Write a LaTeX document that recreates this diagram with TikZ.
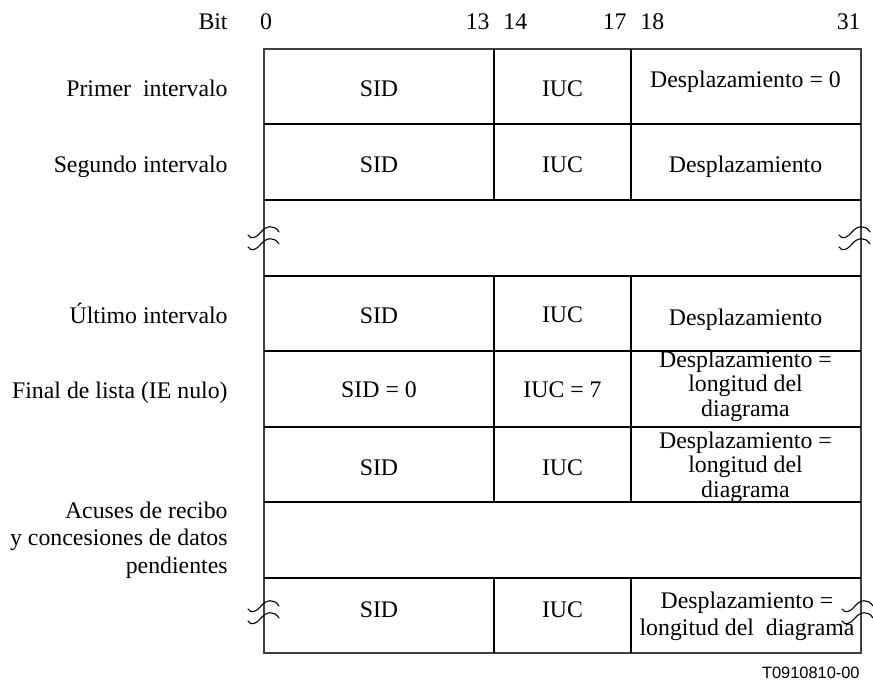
\documentclass[tikz,border=0pt]{standalone}
\usepackage{fontspec}
\setmainfont{Liberation Serif}
\setsansfont{Liberation Sans}
\begin{document}
\begin{tikzpicture}[x=0.5pt,y=-0.5pt,
  txt/.style={font=\fontsize{11.9}{12}\selectfont, inner sep=0pt},
  lbl/.style={txt, anchor=base east},
  cell/.style={txt, anchor=base},
  multi/.style={txt, align=center, anchor=center, font=\fontsize{11.9}{12.3}\selectfont},
  frame/.style={line width=0.55pt, draw=black!75},
  rule/.style={line width=1pt},
  wave/.style={line width=0.55pt, line cap=round},
  brkmark/.pic={
    \draw[wave] (-16,-3) .. controls (-13,2) and (-8,0) .. (-3,-6) .. controls (2,-12) and (10,-14) .. (15,-6);
    \draw[wave] (-16,9) .. controls (-13,14) and (-8,12) .. (-3,6) .. controls (2,0) and (10,-2) .. (15,6);
  }]
\useasboundingbox (0,0) rectangle (873,695);

% column edges: 264, 494, 631, 861; row edges: 49 ... 653
\draw[frame] (264,49) rectangle (861,653);
\foreach \y in {124,200,276,351,427,502,578}
  \draw[rule] (264,\y) -- (861,\y);
\foreach \x in {494,631} {
  \draw[rule] (\x,49) -- (\x,200);
  \draw[rule] (\x,276) -- (\x,502);
  \draw[rule] (\x,578) -- (\x,653);
}

% break marks on the frame
\pic at (264,238) {brkmark};
\pic at (855,238) {brkmark};
\pic at (264,612) {brkmark};
\pic at (858,612) {brkmark};

% bit numbering
\node[lbl] (bit) at (228,30) {Bit};
\node[cell] (b0) at (266,30) {0};
\node[lbl] (b13) at (490,30) {13};
\node[txt, anchor=base west] (b14) at (503,30) {14};
\node[lbl] (b17) at (627,30) {17};
\node[txt, anchor=base west] (b18) at (640,30) {18};
\node[lbl] (b31) at (861,30) {31};

% row labels
\node[lbl] (l1) at (228,97) {Primer\ \ intervalo};
\node[lbl] (l2) at (228,173) {Segundo intervalo};
\node[lbl] (l3) at (228,323) {Último intervalo};
\node[lbl] (l4) at (228,398) {Final de lista (IE nulo)};
\node[txt, align=right, anchor=east, font=\fontsize{11.9}{13.75}\selectfont] (l5) at (228,540)
  {Acuses de recibo\\y concesiones de datos\\pendientes};

% first interval
\node[cell] (s1) at (379,97) {SID};
\node[cell] (i1) at (562.5,97) {IUC};
\node[cell] (d1) at (745.5,88) {Desplazamiento = 0};

% second interval
\node[cell] (s2) at (379,173) {SID};
\node[cell] (i2) at (562.5,173) {IUC};
\node[cell] (d2) at (745.5,173) {Desplazamiento};

% last interval
\node[cell] (s3) at (379,323) {SID};
\node[cell] (i3) at (562.5,322) {IUC};
\node[cell] (d3) at (745.5,326) {Desplazamiento};

% end of list
\node[cell] (s4) at (379,397) {SID = 0};
\node[cell] (i4) at (562.5,397) {IUC = 7};
\node[multi] (d4) at (745.5,386) {Desplazamiento =\\longitud del\\diagrama};

\node[cell] (s5) at (379,475) {SID};
\node[cell] (i5) at (562.5,475) {IUC};
\node[multi] (d5) at (745.5,467) {Desplazamiento =\\longitud del\\diagrama};

\node[cell] (s6) at (379,617) {SID};
\node[cell] (i6) at (562.5,617) {IUC};
\node[multi, font=\fontsize{11.9}{13.5}\selectfont] (d6) at (747,616) {Desplazamiento =\\longitud del\ \ diagrama};

% figure reference
\node[inner sep=0pt, anchor=base east, font=\sffamily\fontsize{8.2}{9}\selectfont] (ref) at (860,678) {T0910810-00};
\end{tikzpicture}
\end{document}
